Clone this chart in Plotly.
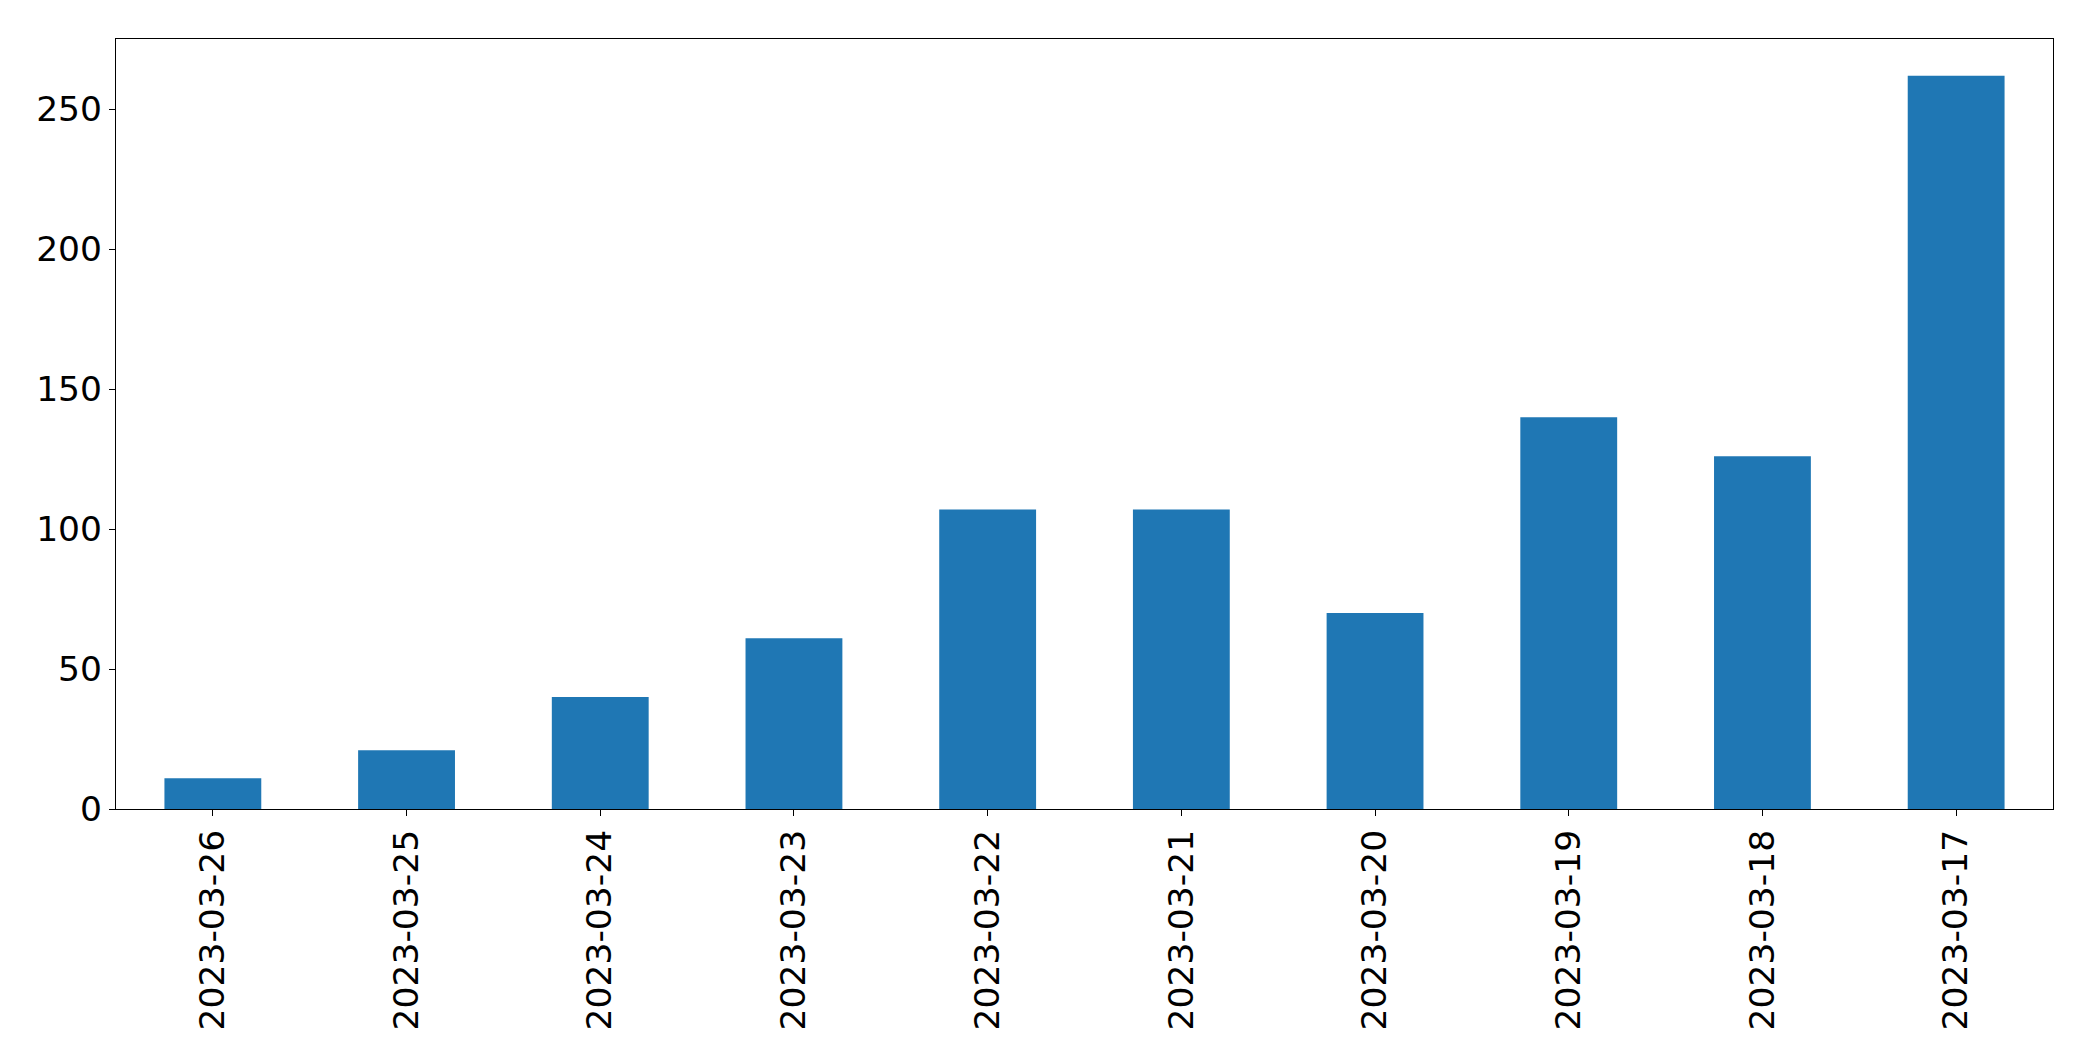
import plotly.graph_objects as go

dates = ["2023-03-26", "2023-03-25", "2023-03-24", "2023-03-23", "2023-03-22",
         "2023-03-21", "2023-03-20", "2023-03-19", "2023-03-18", "2023-03-17"]
counts = [11, 21, 40, 61, 107, 107, 70, 140, 126, 262]
y_ticks = [0, 50, 100, 150, 200, 250]

fig = go.Figure(go.Bar(x=dates, y=counts, marker=dict(color="#1f77b4", line=dict(width=0))))

fig.update_layout(
    width=2093, height=1061,
    margin=dict(l=116, r=40, t=39, b=252),
    paper_bgcolor="white", plot_bgcolor="white",
    bargap=0.5,
    showlegend=False,
    font=dict(family="DejaVu Sans", size=34.5, color="black"),
)
fig.update_xaxes(
    type="category", tickangle=-90,
    showline=True, linecolor="black", linewidth=1.2, mirror=True,
    ticks="outside", ticklen=6, tickwidth=1.2, tickcolor="black",
    showgrid=False, zeroline=False,
    tickfont=dict(size=34.5, family="DejaVu Sans"),
)
fig.update_yaxes(
    range=[0, 275.1], tickvals=y_ticks,
    showline=True, linecolor="black", linewidth=1.2, mirror=True,
    ticks="outside", ticklen=6, tickwidth=1.2, tickcolor="black",
    showgrid=False, zeroline=False,
    tickfont=dict(size=34.5, family="DejaVu Sans"),
)

fig.write_html("out.html")
